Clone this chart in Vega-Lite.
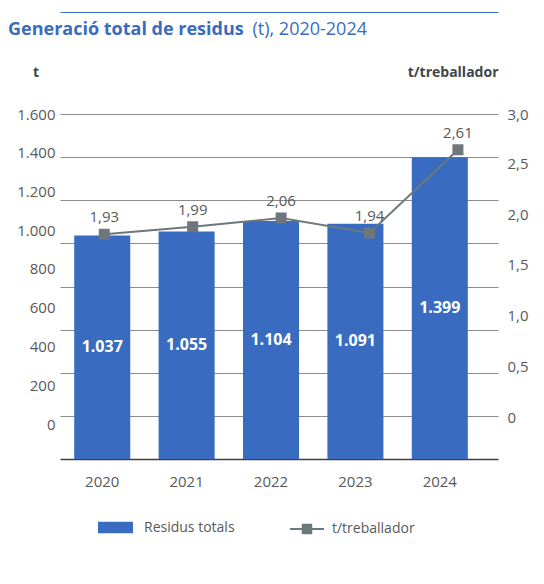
{
  "$schema": "https://vega.github.io/schema/vega-lite/v6.json",
  "width": 438,
  "height": 345,
  "autosize": "none",
  "padding": {"left": 60, "top": 114, "right": 46, "bottom": 125},
  "background": "white",
  "config": {
    "font": "Open Sans",
    "view": {"stroke": null},
    "locale": {"number": {"decimal": ",", "thousands": ".", "grouping": [3], "currency": ["", " €"]}},
    "axis": {"labelFont": "Open Sans", "titleFont": "Open Sans", "labelColor": "#595959", "labelFontSize": 15}
  },
  "title": {
    "text": "Generació total de residus",
    "anchor": "start",
    "frame": "group",
    "dx": -52,
    "dy": 30.5,
    "fontSize": 18,
    "fontWeight": "bold",
    "color": "#396cc0",
    "font": "Open Sans"
  },
  "data": {
    "values": [
      {"year": "2020", "t": 1037, "tpw": 1.93},
      {"year": "2021", "t": 1055, "tpw": 1.99},
      {"year": "2022", "t": 1104, "tpw": 2.06},
      {"year": "2023", "t": 1091, "tpw": 1.94},
      {"year": "2024", "t": 1399, "tpw": 2.61}
    ]
  },
  "layer": [
    {
      "layer": [
        {
          "mark": {"type": "bar", "color": "#396cc0"},
          "encoding": {
            "x": {
              "field": "year", "type": "ordinal",
              "scale": {"paddingInner": 0.336, "paddingOuter": 0.263, "align": 0.32},
              "axis": {"orient": "bottom", "title": null, "labelAngle": 0, "ticks": false, "labelPadding": 15, "domainColor": "#404040", "domainWidth": 1.5, "grid": false}
            },
            "y": {
              "field": "t", "type": "quantitative",
              "scale": {"domain": [0, 1600], "nice": false},
              "axis": {
                "orient": "left",
                "values": [162.3, 342.0, 521.7, 701.4, 881.2, 1060.9, 1240.6, 1420.3, 1600],
                "labelExpr": "replace(format(round((datum.value - 162.3) / 179.71) * 200, ','), ',', '.')",
                "grid": false, "ticks": false, "domain": false, "labelPadding": 5,
                "title": "t", "titleAngle": 0, "titleX": -24.5, "titleY": -42,
                "titleAlign": "center", "titleBaseline": "middle",
                "titleFontSize": 14, "titleFontWeight": "bold", "titleColor": "#3c474c"
              }
            },
            "color": {
              "datum": "Residus totals",
              "scale": {"range": ["#396cc0"]},
              "legend": {
                "title": null, "orient": "none", "legendX": 37, "legendY": 395,
                "symbolType": "M-1,-0.33H1V0.33H-1Z", "symbolSize": 1225,
                "labelFontSize": 14, "labelColor": "#595959", "labelOffset": 10
              }
            }
          }
        },
        {
          "mark": {"type": "text", "color": "white", "fontSize": 16, "fontWeight": "bold", "baseline": "middle"},
          "encoding": {
            "x": {
              "field": "year", "type": "ordinal",
              "axis": {"orient": "top", "offset": 102, "labels": false, "ticks": false, "title": null, "grid": false, "domainColor": "#396cc0", "domainWidth": 1}
            },
            "y": {
              "field": "t", "type": "quantitative", "stack": "zero", "bandPosition": 0.5,
              "axis": {
                "orient": "left",
                "values": [200, 400, 600, 800, 1000, 1200, 1400, 1600],
                "grid": true, "gridColor": "#6e6e6e", "gridWidth": 0.8,
                "labels": false, "ticks": false, "domain": false,
                "title": "(t), 2020-2024", "titleAngle": 0, "titleX": 192, "titleY": -79.5,
                "titleAlign": "left", "titleBaseline": "alphabetic",
                "titleFontSize": 18, "titleFontWeight": "normal", "titleColor": "#396cc0"
              }
            },
            "text": {"field": "t", "type": "quantitative", "format": ",.0f"}
          }
        }
      ],
      "resolve": {"axis": {"x": "independent", "y": "independent"}}
    },
    {
      "layer": [
        {
          "mark": {"type": "line", "color": "#6d777c", "strokeWidth": 2},
          "encoding": {
            "x": {"field": "year", "type": "ordinal", "scale": {"type": "point", "padding": 0.477, "align": 0.525}, "axis": null},
            "y": {
              "field": "tpw", "type": "quantitative",
              "scale": {"domain": [0.1185, 2.8985], "nice": false, "zero": false},
              "axis": {
                "orient": "right",
                "values": [0.4569, 0.8652, 1.2735, 1.6818, 2.0901, 2.4984, 2.8985],
                "labelExpr": "round((datum.value - 0.4569) / 0.4083) == 0 ? '0' : replace(format(round((datum.value - 0.4569) / 0.4083) * 0.5, '.1f'), '.', ',')",
                "grid": false, "ticks": false, "domain": false, "labelPadding": 9,
                "title": "t/treballador", "titleAngle": 0, "titleX": 0, "titleY": -42,
                "titleAlign": "right", "titleBaseline": "middle",
                "titleFontSize": 14, "titleFontWeight": "bold", "titleColor": "#3c474c"
              }
            }
          }
        },
        {
          "mark": {"type": "square", "filled": true, "size": 81, "stroke": "#6d777c", "strokeWidth": 2, "opacity": 1},
          "encoding": {
            "x": {"field": "year", "type": "ordinal"},
            "y": {"field": "tpw", "type": "quantitative"},
            "color": {
              "datum": "t/treballador",
              "scale": {"range": ["#6d777c"]},
              "legend": {
                "title": null, "orient": "none", "legendX": 229, "legendY": 397,
                "symbolType": "M-1,0H1M-0.25,-0.25H0.25V0.25H-0.25Z", "symbolSize": 1156,
                "symbolStrokeColor": "#6d777c", "symbolStrokeWidth": 2,
                "labelFontSize": 14, "labelColor": "#595959", "labelOffset": 7
              }
            }
          }
        },
        {
          "mark": {"type": "text", "dy": -17, "fontSize": 15, "color": "#595959", "baseline": "middle"},
          "encoding": {
            "x": {"field": "year", "type": "ordinal"},
            "y": {"field": "tpw", "type": "quantitative"},
            "text": {"field": "tpw", "type": "quantitative", "format": ".2f"}
          }
        }
      ]
    }
  ],
  "resolve": {
    "scale": {"x": "independent", "y": "independent", "color": "independent"},
    "legend": {"color": "independent"}
  }
}
